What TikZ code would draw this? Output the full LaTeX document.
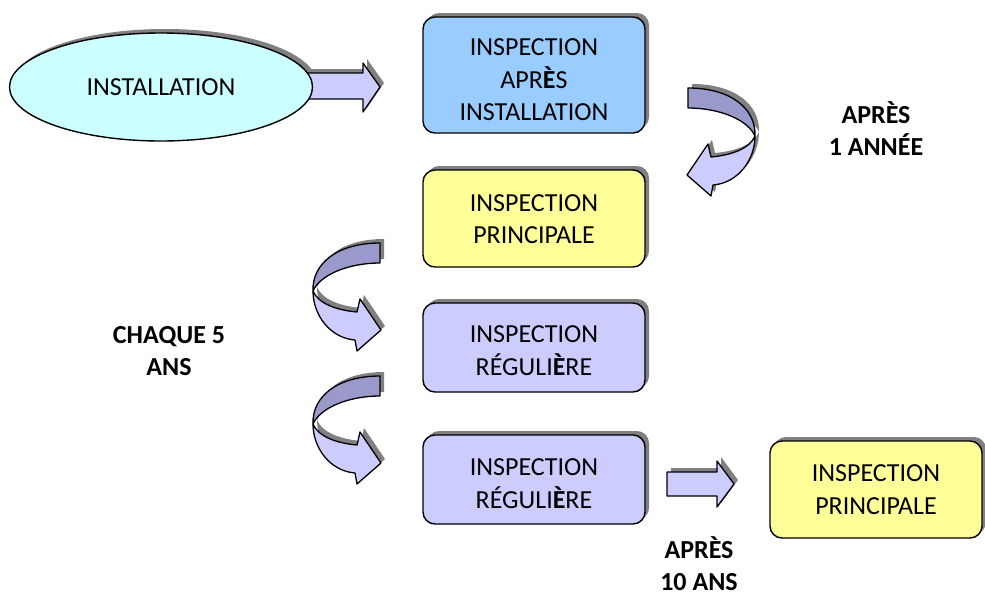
\documentclass[tikz,border=0pt]{standalone}
\usepackage{fontspec}
\setmainfont{Carlito}
\usetikzlibrary{shapes.geometric,shadows}
\definecolor{cyanfill}{HTML}{CCFFFF}
\definecolor{bluefill}{HTML}{99CCFF}
\definecolor{yelfill}{HTML}{FFFF99}
\definecolor{lavfill}{HTML}{CCCCFF}
\definecolor{ribdark}{HTML}{9999CC}
\definecolor{shadowc}{HTML}{808080}
\newcommand\ribbonarrow[2]{%
  \begin{scope}[#1]
    \fill[shadowc, shift={(#2,-4)}] (0,0) .. controls (-42,0) and (-68,20) .. (-67,48)
      .. controls (-67,72) and (-50,95) .. (-25,97) -- (-23,108) -- (1,87) -- (-20,56) -- (-23,69)
      .. controls (-45,67) and (-62,60) .. (-67,48) .. controls (-60,32) and (-32,20) .. (0,20) -- cycle;
    \filldraw[fill=ribdark, arrline] (0,0) .. controls (-42,0) and (-68,20) .. (-67,48)
      .. controls (-60,32) and (-32,20) .. (0,20) -- cycle;
    \filldraw[fill=lavfill, arrline] (-67,48) .. controls (-67,72) and (-50,95) .. (-25,97)
      -- (-23,108) -- (1,87) -- (-20,56) -- (-23,69) .. controls (-45,67) and (-62,60) .. cycle;
  \end{scope}}
\begin{document}
\begin{tikzpicture}[x=1pt, y=-1pt, line join=round,
  every node/.style={font=\fontsize{26}{32.5}\selectfont},
  arrline/.style={draw=black, line width=1.3pt},
  shadowed/.style={general shadow={fill=shadowc, shadow xshift=4pt, shadow yshift=4pt}},
  box/.style={draw=black, line width=1.4pt, rounded corners=12pt, minimum width=222pt,
    inner sep=0pt, shadowed},
  txt/.style={align=center, inner sep=0pt},
  lbl/.style={align=center, font=\fontsize{26}{32}\selectfont\bfseries}]
\useasboundingbox (0,0) rectangle (985,595);

% ellipse shadow, then straight arrow, then ellipse
\fill[shadowc] (165,83) ellipse [x radius=151.5, y radius=54];
\fill[shadowc, shift={(4,-4)}] (295,73) -- (363,73) -- (363,63) -- (380,87) -- (363,112) -- (363,99) -- (295,99) -- cycle;
\filldraw[fill=lavfill, arrline] (295,73) -- (363,73) -- (363,63) -- (380,87) -- (363,112) -- (363,99) -- (295,99) -- cycle;
\node[ellipse, draw=black, line width=1.4pt, fill=cyanfill, minimum width=303pt, minimum height=108pt, inner sep=0pt]
  (inst) at (161,87) {INSTALLATION};

% boxes
\node[box, fill=bluefill, minimum height=116pt] (b1) at (534,75) {};
\node[box, fill=yelfill, minimum height=97pt] (b2) at (534,218.5) {};
\node[box, fill=lavfill, minimum height=89pt] (b3) at (534,347.5) {};
\node[box, fill=lavfill, minimum height=89pt] (b4) at (534,479.5) {};
\node[box, fill=yelfill, minimum height=97pt, minimum width=212pt] (b5) at (876,489.5) {};
\node[txt] (t1) at (534,80) {INSPECTION\\APR\textbf{È}S\\INSTALLATION};
\node[txt] (t2) at (534,219) {INSPECTION\\PRINCIPALE};
\node[txt] (t3) at (534,350.5) {INSPECTION\\RÉGULI\textbf{È}RE};
\node[txt] (t4) at (534,483.5) {INSPECTION\\RÉGULI\textbf{È}RE};
\node[txt] (t5) at (876,489.5) {INSPECTION\\PRINCIPALE};

% straight arrow 2
\fill[shadowc, shift={(4,-4)}] (667,472) -- (717,472) -- (717,461) -- (734,484) -- (717,507) -- (717,496) -- (667,496) -- cycle;
\filldraw[fill=lavfill, arrline] (667,472) -- (717,472) -- (717,461) -- (734,484) -- (717,507) -- (717,496) -- (667,496) -- cycle;

% curved arrows
\ribbonarrow{shift={(688,88)}, xscale=-1}{-4}
\ribbonarrow{shift={(380,243)}}{4}
\ribbonarrow{shift={(380,376)}}{4}

% labels
\node[lbl] (l1) at (876,129) {APRÈS\\1 ANNÉE};
\node[lbl] (l2) at (169,351) {CHAQUE 5\\ANS};
\node[lbl] (l3) at (699,564) {APRÈS\\10 ANS};
\end{tikzpicture}
\end{document}
